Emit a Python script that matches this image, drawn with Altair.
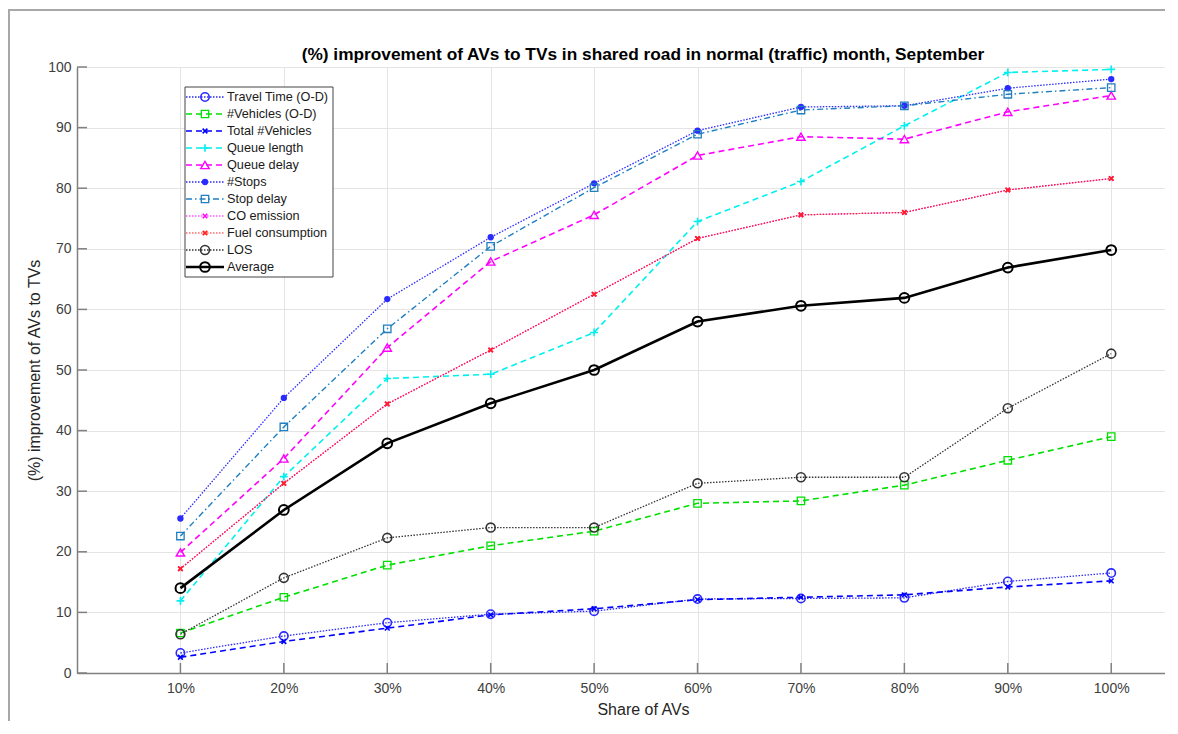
import altair as alt
import pandas as pd

shares = [10, 20, 30, 40, 50, 60, 70, 80, 90, 100]

series_names = [
    "Travel Time (O-D)", "#Vehicles (O-D)", "Total #Vehicles", "Queue length",
    "Queue delay", "#Stops", "Stop delay", "CO emission", "Fuel consumption",
    "LOS", "Average",
]

travel_time = [3.3, 6.1, 8.3, 9.7, 10.2, 12.2, 12.3, 12.4, 15.1, 16.5]
vehicles_od = [6.6, 12.5, 17.8, 21.0, 23.4, 28.0, 28.4, 31.0, 35.1, 39.0]
total_vehicles = [2.6, 5.2, 7.4, 9.6, 10.6, 12.1, 12.5, 12.9, 14.2, 15.2]
queue_length = [11.9, 32.4, 48.6, 49.3, 56.2, 74.5, 81.1, 90.3, 99.1, 99.6]
queue_delay = [19.9, 35.4, 53.7, 67.9, 75.6, 85.4, 88.5, 88.1, 92.6, 95.3]
stops = [25.5, 45.4, 61.7, 71.9, 80.8, 89.5, 93.4, 93.6, 96.5, 98.0]
stop_delay = [22.6, 40.6, 56.8, 70.4, 80.1, 88.9, 92.9, 93.6, 95.5, 96.6]
co_emission = [17.2, 31.3, 44.4, 53.3, 62.5, 71.7, 75.6, 76.0, 79.7, 81.6]
fuel = [17.2, 31.3, 44.4, 53.3, 62.5, 71.7, 75.6, 76.0, 79.7, 81.6]
los = [6.4, 15.7, 22.3, 24.0, 24.0, 31.3, 32.3, 32.3, 43.7, 52.7]
average = [14.0, 26.9, 37.9, 44.5, 50.0, 58.0, 60.6, 61.9, 66.9, 69.8]

all_values = [travel_time, vehicles_od, total_vehicles, queue_length, queue_delay,
              stops, stop_delay, co_emission, fuel, los, average]

x_ticks = [10, 20, 30, 40, 50, 60, 70, 80, 90, 100]
y_ticks = [0, 10, 20, 30, 40, 50, 60, 70, 80, 90, 100]

title_text = "(%) improvement of AVs to TVs in shared road in normal (traffic) month, September"

X_PATH = "M-0.75,-0.75L0.75,0.75M-0.75,0.75L0.75,-0.75"
PLUS_PATH = "M-1,0L1,0M0,-1L0,1"

DOT = [1.5, 1.5]
DASH = [6, 4]
DASHDOT = [6, 3, 1.5, 3]

# name -> (color, dash, shape, filled, line width, marker size, marker stroke)
styles = {
    "Travel Time (O-D)": ("#2a2aff", DOT, "circle", False, 1.3, 70, 1.6),
    "#Vehicles (O-D)": ("#00e000", DASH, "square", False, 1.6, 55, 1.3),
    "Total #Vehicles": ("#0000ff", DASH, X_PATH, False, 1.6, 40, 1.6),
    "Queue length": ("#00f0f0", DASH, PLUS_PATH, False, 1.6, 60, 1.6),
    "Queue delay": ("#ff00ff", DASH, "triangle-up", False, 1.6, 70, 1.4),
    "#Stops": ("#2a2aff", DOT, "circle", True, 1.3, 40, 1.0),
    "Stop delay": ("#1f7fc0", DASHDOT, "square", False, 1.4, 55, 1.3),
    "CO emission": ("#ff00ff", DOT, X_PATH, False, 1.2, 35, 1.6),
    "Fuel consumption": ("#ff2020", DOT, X_PATH, False, 1.2, 35, 1.8),
    "LOS": ("#333333", DOT, "circle", False, 1.3, 80, 1.6),
    "Average": ("#000000", None, "circle", False, 2.6, 95, 2.0),
}

PLOT_W = 1088
PLOT_H = 606

font = "Liberation Sans"

x_enc = alt.X(
    "share:Q",
    scale=alt.Scale(domain=[0, 105.2], nice=False, zero=False),
    axis=alt.Axis(
        values=x_ticks, labelExpr="datum.value + '%'", title="Share of AVs",
        ticks=False, grid=True, gridColor="#e4e4e4", gridWidth=1,
        domainColor="#808080", domainWidth=1.5, labelColor="#404040",
        labelFontSize=14, titleFontSize=16, titleColor="#262626",
        titleFontWeight="normal", labelPadding=8, titlePadding=6,
        titleX=566, titleAnchor="middle", labelFont=font, titleFont=font,
    ),
)
y_enc = alt.Y(
    "value:Q",
    scale=alt.Scale(domain=[0, 100], nice=False),
    axis=alt.Axis(
        values=y_ticks, title="(%) improvement of AVs to TVs",
        ticks=False, grid=True, gridColor="#e4e4e4", gridWidth=1,
        domainColor="#808080", domainWidth=1.5, labelColor="#404040",
        labelFontSize=14, titleFontSize=16, titleColor="#262626",
        titleFontWeight="normal", labelPadding=6, titlePadding=5,
        labelFont=font, titleFont=font,
    ),
)

data_layers = []
for name, vals in zip(series_names, all_values):
    color, dash, shape, filled, lw, msize, mstroke = styles[name]
    df = pd.DataFrame({"share": shares, "value": vals, "series": name})
    line_kw = dict(color=color, strokeWidth=lw)
    if dash is not None:
        line_kw["strokeDash"] = dash
    line = alt.Chart(df).mark_line(**line_kw).encode(x=x_enc, y=y_enc)
    pt = alt.Chart(df).mark_point(
        shape=shape, filled=filled, size=msize, color=color,
        strokeWidth=mstroke, opacity=1,
    ).encode(x=x_enc, y=y_enc)
    data_layers += [line, pt]

# inward tick marks
ytick_df = pd.DataFrame({"value": y_ticks})
xtick_df = pd.DataFrame({"share": x_ticks})
ytick_layer = alt.Chart(ytick_df).mark_rule(color="#808080", strokeWidth=1.5).encode(
    y=y_enc, x=alt.value(0), x2=alt.value(10))
xtick_layer = alt.Chart(xtick_df).mark_rule(color="#808080", strokeWidth=1.5).encode(
    x=x_enc, y=alt.value(PLOT_H), y2=alt.value(PLOT_H - 10))

main = alt.layer(*data_layers, ytick_layer, xtick_layer)

# figure frame, title and legend
dummy = pd.DataFrame({"k": [0]})
frame_left = alt.Chart(dummy).mark_rule(color="#a8a8a8", strokeWidth=2).encode(
    x=alt.value(-68), y=alt.value(-58), y2=alt.value(660))
frame_top = alt.Chart(dummy).mark_rule(color="#a8a8a8", strokeWidth=2).encode(
    x=alt.value(-69), x2=alt.value(1088), y=alt.value(-57))
title_mark = alt.Chart(pd.DataFrame({"t": [title_text]})).mark_text(
    fontSize=17.3, fontWeight="bold", font=font, color="#000000",
    align="center", baseline="middle",
).encode(x=alt.value(566), y=alt.value(-12), text="t:N")

leg_box = alt.Chart(dummy).mark_rect(fill="white", stroke="#444444", strokeWidth=1).encode(
    x=alt.value(108), x2=alt.value(256), y=alt.value(20), y2=alt.value(210))

leg_scale = alt.Scale(domain=[0, 10], range=[30, 200])
leg_layers = [leg_box]
for i, name in enumerate(series_names):
    color, dash, shape, filled, lw, msize, mstroke = styles[name]
    ldf = pd.DataFrame({"idx": [i], "name": [name]})
    ly = alt.Y("idx:Q", scale=leg_scale, axis=None)
    rule_kw = dict(color=color, strokeWidth=lw)
    if dash is not None:
        rule_kw["strokeDash"] = dash
    leg_layers.append(alt.Chart(ldf).mark_rule(**rule_kw).encode(
        y=ly, x=alt.value(109), x2=alt.value(147)))
    leg_layers.append(alt.Chart(ldf).mark_point(
        shape=shape, filled=filled, size=msize, color=color,
        strokeWidth=mstroke, opacity=1).encode(y=ly, x=alt.value(128)))
    leg_layers.append(alt.Chart(ldf).mark_text(
        align="left", baseline="middle", fontSize=12.7, font=font, color="#1a1a1a"
    ).encode(y=ly, x=alt.value(150), text="name:N"))

legend = alt.layer(*leg_layers)

chart = alt.layer(frame_left, frame_top, title_mark, main, legend).resolve_scale(
    y="independent", x="independent"
).properties(
    width=PLOT_W,
    height=PLOT_H,
    autosize=alt.AutoSizeParams(type="none"),
    padding={"left": 69, "top": 59, "right": 0, "bottom": 48},
).configure_view(stroke=None).configure(background="white")

chart.save("out.html", embed_options={"renderer": "svg", "actions": False})
